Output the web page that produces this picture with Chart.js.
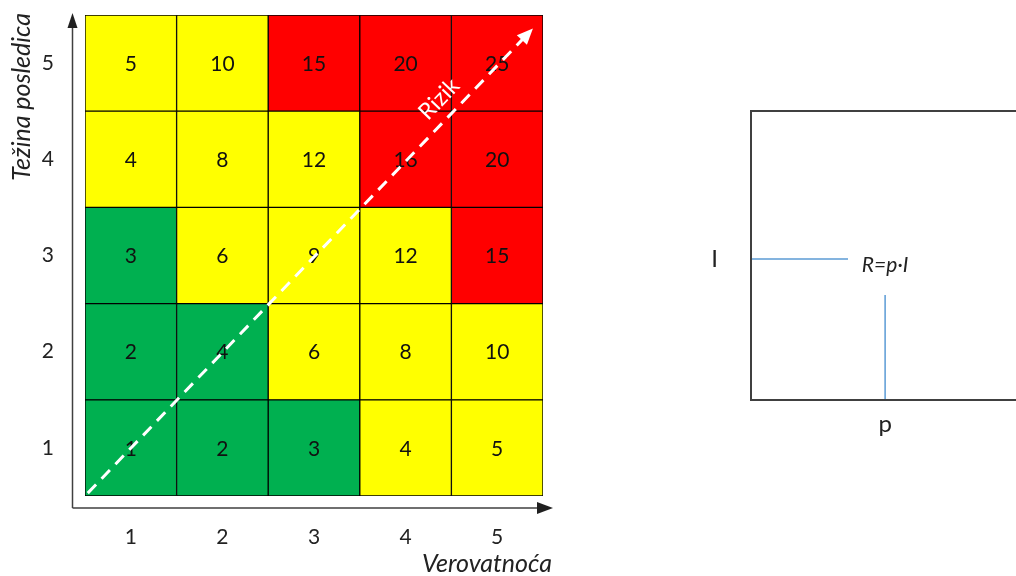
<!DOCTYPE html>
<html>
<head>
<meta charset="utf-8">
<script src="https://cdn.jsdelivr.net/npm/chart.js@4/dist/chart.umd.min.js"></script>
<style>
  html, body { margin: 0; padding: 0; background: #fff; overflow: hidden; }
  #wrap { position: relative; width: 1016px; height: 576px; overflow: hidden; }
  #matrix { position: absolute; left: 0; top: 0; }
  #formula { position: absolute; left: 690px; top: 0; }
</style>
</head>
<body>
<div id="wrap">
  <canvas id="matrix" width="640" height="576"></canvas>
  <canvas id="formula" width="420" height="576"></canvas>
</div>
<script>
const probLabels = ['1', '2', '3', '4', '5'];
const impactLabels = ['1', '2', '3', '4', '5'];
// rows go from impact 1 (bottom) to impact 5 (top)
const riskRow1 = [1, 2, 3, 4, 5];
const riskRow2 = [2, 4, 6, 8, 10];
const riskRow3 = [3, 6, 9, 12, 15];
const riskRow4 = [4, 8, 12, 16, 20];
const riskRow5 = [5, 10, 15, 20, 25];
const zoneRow1 = ['g', 'g', 'g', 'y', 'y'];
const zoneRow2 = ['g', 'g', 'y', 'y', 'y'];
const zoneRow3 = ['g', 'y', 'y', 'y', 'r'];
const zoneRow4 = ['y', 'y', 'y', 'r', 'r'];
const zoneRow5 = ['y', 'y', 'r', 'r', 'r'];
// risk arrow, in cell units from the bottom-left corner
const riskArrow = [[0.03, 0.03], [4.89, 4.86]];

// right panel: R = p·I
const pValue = 0.434;
const iValue = 0.488;
const hLineEnd = 0.314;
const vLineTop = 0.363;

const riskRows = [riskRow1, riskRow2, riskRow3, riskRow4, riskRow5];
const zoneRows = [zoneRow1, zoneRow2, zoneRow3, zoneRow4, zoneRow5];
const zoneColors = { g: '#00B050', y: '#FFFF00', r: '#FF0000' };
const FONT = 'Lato, "Open Sans", sans-serif';

const noEdgePadding = s => {
  s.paddingTop = 0;
  s.paddingBottom = 0;
  s.paddingLeft = 0;
  s.paddingRight = 0;
};

const matrixOverlay = {
  id: 'matrixOverlay',
  afterDatasetsDraw(chart) {
    const { ctx, chartArea: a, scales: { x, y } } = chart;
    ctx.save();

    // cell values
    ctx.fillStyle = '#111';
    ctx.font = `21px ${FONT}`;
    ctx.textAlign = 'center';
    ctx.textBaseline = 'middle';
    riskRows.forEach((row, r) => {
      chart.getDatasetMeta(r).data.forEach((bar, c) => {
        ctx.fillText(String(row[c]), bar.x, (bar.y + bar.base) / 2 + 1);
      });
    });

    // axis lines with arrows
    const ax = a.left - 12.5;
    const ay = a.bottom + 12;
    ctx.strokeStyle = '#404040';
    ctx.fillStyle = '#202020';
    ctx.lineWidth = 1.5;
    ctx.beginPath();
    ctx.moveTo(ax, ay);
    ctx.lineTo(ax, a.top + 8);
    ctx.moveTo(ax, ay);
    ctx.lineTo(a.right + 2, ay);
    ctx.stroke();
    ctx.beginPath();
    ctx.moveTo(ax, a.top - 2);
    ctx.lineTo(ax - 5, a.top + 13);
    ctx.lineTo(ax + 5, a.top + 13);
    ctx.closePath();
    ctx.fill();
    ctx.beginPath();
    ctx.moveTo(a.right + 10, ay);
    ctx.lineTo(a.right - 6, ay - 6);
    ctx.lineTo(a.right - 6, ay + 6);
    ctx.closePath();
    ctx.fill();

    // axis titles
    ctx.fillStyle = '#222';
    ctx.font = `italic 25px ${FONT}`;
    ctx.textAlign = 'right';
    ctx.textBaseline = 'middle';
    ctx.fillText('Verovatnoća', a.right + 9, ay + 56);
    ctx.save();
    ctx.translate(22, a.top - 2);
    ctx.rotate(-Math.PI / 2);
    ctx.fillText('Težina posledica', 0, 0);
    ctx.restore();

    // dashed risk arrow
    const px = v => x.getPixelForValue(v - 0.5);
    const py = v => y.getPixelForValue(v);
    const x0 = px(riskArrow[0][0]), y0 = py(riskArrow[0][1]);
    const x1 = px(riskArrow[1][0]), y1 = py(riskArrow[1][1]);
    const ang = Math.atan2(y1 - y0, x1 - x0);
    ctx.strokeStyle = '#fff';
    ctx.fillStyle = '#fff';
    ctx.lineWidth = 3;
    ctx.setLineDash([12, 8]);
    ctx.beginPath();
    ctx.moveTo(x0, y0);
    ctx.lineTo(x1 - 12 * Math.cos(ang), y1 - 12 * Math.sin(ang));
    ctx.stroke();
    ctx.setLineDash([]);
    ctx.save();
    ctx.translate(x1, y1);
    ctx.rotate(ang);
    ctx.beginPath();
    ctx.moveTo(0, 0);
    ctx.lineTo(-16, -7);
    ctx.lineTo(-16, 7);
    ctx.closePath();
    ctx.fill();
    ctx.restore();

    // label along the arrow
    const t = 0.82;
    const lx = x0 + (x1 - x0) * t + 19 * Math.sin(ang);
    const ly = y0 + (y1 - y0) * t - 19 * Math.cos(ang);
    ctx.save();
    ctx.translate(lx, ly);
    ctx.rotate(ang);
    ctx.font = `23px ${FONT}`;
    ctx.textAlign = 'center';
    ctx.fillText('Rizik', 0, 0);
    ctx.restore();

    ctx.restore();
  }
};

new Chart(document.getElementById('matrix'), {
  type: 'bar',
  data: {
    labels: probLabels,
    datasets: riskRows.map((row, r) => ({
      label: 'I = ' + impactLabels[r],
      data: row.map(() => 1),
      backgroundColor: zoneRows[r].map(z => zoneColors[z]),
      borderColor: '#000',
      borderWidth: 1,
      borderSkipped: false,
      categoryPercentage: 1,
      barPercentage: 1,
    })),
  },
  options: {
    responsive: false,
    animation: false,
    layout: { padding: { top: 15, right: 97, bottom: 0, left: 0 } },
    plugins: { legend: { display: false }, tooltip: { enabled: false } },
    scales: {
      x: {
        stacked: true,
        grid: { display: false, drawTicks: false },
        border: { display: false },
        ticks: { padding: 29, color: '#222', font: { family: FONT, size: 21 } },
        afterFit: s => { s.height = 80; noEdgePadding(s); },
      },
      y: {
        stacked: true,
        min: 0,
        max: 5,
        grid: { display: false, drawTicks: false },
        border: { display: false },
        afterBuildTicks: s => { s.ticks = impactLabels.map((_, i) => ({ value: i + 0.5 })); },
        ticks: {
          padding: 31,
          color: '#222',
          font: { family: FONT, size: 21 },
          callback: v => impactLabels[Math.round(v - 0.5)],
        },
        afterFit: s => { s.width = 85; noEdgePadding(s); },
      },
    },
  },
  plugins: [matrixOverlay],
});

const formulaOverlay = {
  id: 'formulaOverlay',
  afterDatasetsDraw(chart) {
    const { ctx, chartArea: a, scales: { x, y } } = chart;
    ctx.save();
    ctx.strokeStyle = '#404040';
    ctx.lineWidth = 2;
    ctx.strokeRect(a.left, a.top, a.right - a.left, a.bottom - a.top);
    ctx.fillStyle = '#222';
    ctx.font = `italic 21px ${FONT}`;
    ctx.textAlign = 'center';
    ctx.textBaseline = 'middle';
    ctx.fillText('R=p·I', x.getPixelForValue(pValue), y.getPixelForValue(iValue) + 6);
    ctx.restore();
  }
};

new Chart(document.getElementById('formula'), {
  type: 'scatter',
  data: {
    datasets: [
      { data: [{ x: 0, y: iValue }, { x: hLineEnd, y: iValue }] },
      { data: [{ x: pValue, y: 0 }, { x: pValue, y: vLineTop }] },
    ].map(d => ({
      ...d,
      showLine: true,
      pointRadius: 0,
      borderColor: '#5B9BD5',
      borderWidth: 1.5,
      clip: false,
    })),
  },
  options: {
    responsive: false,
    animation: false,
    layout: { padding: { top: 111, right: 50, bottom: 0, left: 0 } },
    plugins: { legend: { display: false }, tooltip: { enabled: false } },
    scales: {
      x: {
        min: 0,
        max: 1,
        grid: { display: false, drawTicks: false },
        border: { display: false },
        afterBuildTicks: s => { s.ticks = [{ value: pValue }]; },
        ticks: { padding: 10, color: '#222', font: { family: FONT, size: 24 }, callback: () => 'p' },
        afterFit: s => { s.height = 176; noEdgePadding(s); },
      },
      y: {
        min: 0,
        max: 1,
        grid: { display: false, drawTicks: false },
        border: { display: false },
        afterBuildTicks: s => { s.ticks = [{ value: iValue }]; },
        ticks: { padding: 33, color: '#222', font: { family: FONT, size: 24 }, callback: () => 'I' },
        afterFit: s => { s.width = 61; noEdgePadding(s); },
      },
    },
  },
  plugins: [formulaOverlay],
});
</script>
</body>
</html>
